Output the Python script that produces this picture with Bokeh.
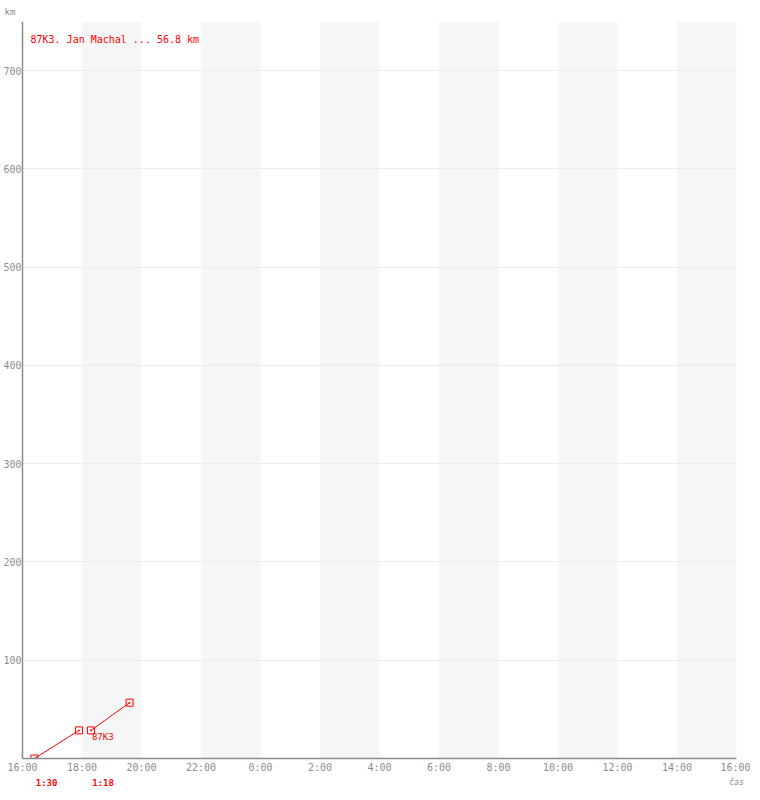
from bokeh.plotting import figure
from bokeh.models import ColumnDataSource, FixedTicker, Label, Range1d, LinearAxis
from bokeh.embed import file_html
from bokeh.resources import INLINE

# ---- data ----
seg_start_time = [16.4, 18.3]      # hours (16:24, 18:18)
seg_end_time = [17.9, 19.6]        # hours (17:54, 19:36)
seg_start_km = [0.0, 28.6]
seg_end_km = [28.6, 56.8]
seg_duration = ["1:30", "1:18"]
team_code = "87K3"
title_text = "87K3. Jan Machal ... 56.8 km"

band_start = [18, 22, 26, 30, 34, 38]
band_end = [20, 24, 28, 32, 36, 40]

x_ticks = [16, 18, 20, 22, 24, 26, 28, 30, 32, 34, 36, 38, 40]
x_tick_labels = ["16:00", "18:00", "20:00", "22:00", "0:00", "2:00", "4:00",
                 "6:00", "8:00", "10:00", "12:00", "14:00", "16:00"]
y_ticks = [100, 200, 300, 400, 500, 600, 700]
X_MIN, X_MAX = 16, 40
Y_MAX = 750

RED = "#ff0000"
GRAY = "#8c8c8c"
MONO = "DejaVu Sans Mono"

# duration labels are centred on their ticks; this range shifts them so that
# each text starts just right of its segment start
DUR_SHIFT = 0.41   # hours


def bare_axis(ticks, labels, range_name="default"):
    ax = LinearAxis(ticker=FixedTicker(ticks=ticks), x_range_name=range_name,
                    major_label_overrides={t: l for t, l in zip(ticks, labels)})
    ax.axis_line_color = None
    ax.major_tick_line_color = None
    ax.minor_tick_line_color = None
    ax.major_tick_out = 0
    ax.major_tick_in = 0
    ax.major_label_text_font = MONO
    return ax


p = figure(width=750, height=790, output_backend="svg", toolbar_location=None,
           x_range=Range1d(X_MIN, X_MAX), y_range=Range1d(0, Y_MAX),
           min_border_left=0, min_border_right=14, min_border_top=0,
           min_border_bottom=0)
p.extra_x_ranges = {"dur": Range1d(X_MIN - DUR_SHIFT, X_MAX - DUR_SHIFT)}
p.outline_line_color = None
p.background_fill_color = "white"

# "km" title above
p.title.text = "km"
p.title.text_font = MONO
p.title.text_font_size = "9px"
p.title.text_font_style = "normal"
p.title.text_color = GRAY
p.title.align = "left"
p.title.standoff = 9
p.title.offset = -18

# alternating bands
bands = ColumnDataSource(dict(left=band_start, right=band_end,
                              bottom=[0] * len(band_start), top=[Y_MAX] * len(band_start)))
p.quad(left="left", right="right", bottom="bottom", top="top", source=bands,
       fill_color="#f6f6f6", line_color=None, level="underlay")

# grid
p.xgrid.grid_line_color = None
p.ygrid.grid_line_color = "#ebebeb"
p.ygrid.ticker = FixedTicker(ticks=y_ticks)

# axes
p.xaxis.ticker = FixedTicker(ticks=x_ticks)
p.xaxis.major_label_overrides = {t: l for t, l in zip(x_ticks, x_tick_labels)}
p.yaxis.ticker = FixedTicker(ticks=y_ticks)
for ax in (p.xaxis[0], p.yaxis[0]):
    ax.axis_line_color = GRAY
    ax.axis_line_width = 1.5
    ax.major_tick_line_color = None
    ax.minor_tick_line_color = None
    ax.major_tick_out = 0
    ax.major_tick_in = 0
    ax.major_label_text_font = MONO
    ax.major_label_text_font_size = "10px"
    ax.major_label_text_color = GRAY
    ax.major_label_standoff = 2
p.yaxis.major_label_standoff = 1
p.xaxis.major_label_standoff = 3

# segment durations as an extra axis under the time axis
dur_axis = bare_axis(seg_start_time, seg_duration, "dur")
dur_axis.major_label_standoff = 2
dur_axis.major_label_text_font_size = "9px"
dur_axis.major_label_text_font_style = "bold"
dur_axis.major_label_text_color = RED
p.add_layout(dur_axis, "below")

# "čas" name of the time axis, on the same row
cas_axis = bare_axis([X_MAX], ["čas"])
cas_axis.major_label_standoff = -13
cas_axis.major_label_text_font_size = "8px"
cas_axis.major_label_text_font_style = "italic"
cas_axis.major_label_text_color = GRAY
p.add_layout(cas_axis, "below")

# segments
segs = ColumnDataSource(dict(x0=seg_start_time, x1=seg_end_time,
                             y0=seg_start_km, y1=seg_end_km))
p.segment(x0="x0", y0="y0", x1="x1", y1="y1", source=segs, line_color=RED, line_width=1)
p.scatter(x="x0", y="y0", source=segs, marker="square_dot", size=7,
          fill_color=None, line_color=RED, line_width=1)
p.scatter(x="x1", y="y1", source=segs, marker="square_dot", size=7,
          fill_color=None, line_color=RED, line_width=1)

# team code by last segment start
p.add_layout(Label(x=seg_start_time[-1], y=seg_start_km[-1], text=team_code,
                   x_offset=1, y_offset=-7, text_font=MONO, text_font_size="9px",
                   text_color=RED, text_baseline="middle", text_align="left"))

# title
p.add_layout(Label(x=8, y=Y_MAX, x_units="screen", y_offset=-18, text=title_text,
                   text_font=MONO, text_font_size="10px", text_color=RED,
                   text_baseline="middle", text_align="left"))

open("out.html", "w").write(file_html(p, INLINE))
